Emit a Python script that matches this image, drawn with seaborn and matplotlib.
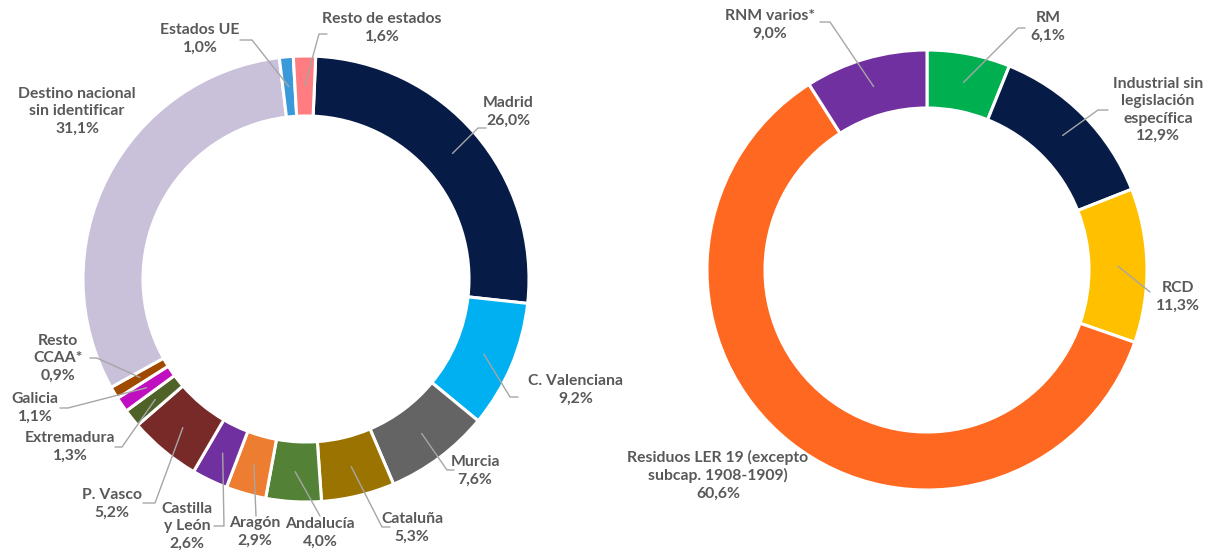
import matplotlib
matplotlib.use("Agg")
import matplotlib.pyplot as plt
import seaborn as sns
import numpy as np

W, H = 1207, 553

# left donut: destino de los residuos
left_names = ["Madrid", "C. Valenciana", "Murcia", "Cataluña", "Andalucía", "Aragón",
              "Castilla\ny León", "P. Vasco", "Extremadura", "Galicia", "Resto\nCCAA*",
              "Destino nacional\nsin identificar", "Estados UE", "Resto de estados"]
left_pct = [26.0, 9.2, 7.6, 5.3, 4.0, 2.9, 2.6, 5.2, 1.3, 1.1, 0.9, 31.1, 1.0, 1.6]
left_colors = ["#061C47", "#00B0F0", "#646464", "#9A7300", "#538135", "#ED7D31",
               "#7030A0", "#782A28", "#4F6228", "#C00FC0", "#A04A00", "#C9C0DA",
               "#3A9AD9", "#FF7C80"]

# right donut: tipo de residuo
right_names = ["RM", "Industrial sin\nlegislación\nespecífica", "RCD",
               "Residuos LER 19 (excepto\nsubcap. 1908-1909)", "RNM varios*"]
right_pct = [6.1, 12.9, 11.3, 60.6, 9.0]
right_colors = ["#00B050", "#061C47", "#FFC000", "#FF6820", "#7030A0"]

# label layout in pixel coords (y down): text centre, elbow, stub end (None = no line)
left_layout = [
    ((508, 112), (478, 128), (486, 128)),
    ((576, 390), (510, 397), (518, 397)),
    ((475, 471), (447, 470), (454, 470)),
    ((412, 528), (382, 527), (390, 527)),
    ((320, 533), (320, 516), None),
    ((255, 532), (256, 516), None),
    ((187, 526), (224, 526), (214, 526)),
    ((112, 504), (155, 503), (143, 503)),
    ((70, 447), (122, 447), (115, 447)),
    ((35, 408), (68, 408), (60, 408)),
    ((58, 358), (97, 358), (90, 358)),
    ((77, 111), None, None),
    ((200, 39), (252, 40), (240, 40)),
    ((382, 28), (319, 34), (327, 34)),
]
right_layout = [
    ((1048, 27), (1018, 28), (1025, 28)),
    ((1158, 110), (1098, 110), (1108, 110)),
    ((1178, 297), (1150, 292), None),
    ((718, 475), None, None),
    ((770, 25), (830, 22), (820, 22)),
]

sns.set_theme(style="white")
plt.rcParams["font.family"] = ["Lato", "DejaVu Sans"]

fig = plt.figure(figsize=(W / 100, H / 100), dpi=100)
ax = fig.add_axes([0, 0, 1, 1])


def donut(values, colors, names, layout, cx, cy, r, width, start, explode):
    wedges, _ = ax.pie(values, colors=colors, startangle=start, counterclock=False,
                       center=(cx, H - cy), radius=r, explode=explode,
                       wedgeprops=dict(width=width, edgecolor="white", linewidth=2.2))
    for w, name, val, (txt, elbow, stub) in zip(wedges, names, values, layout):
        label = name + "\n" + f"{val:.1f}%".replace(".", ",")
        ax.text(txt[0], H - txt[1], label, ha="center", va="center", fontsize=11.3,
                fontweight="bold", color="#595959", linespacing=1.3)
        if elbow is None:
            continue
        mid = np.deg2rad((w.theta1 + w.theta2) / 2)
        rm = w.r - width / 2
        px = w.center[0] + rm * np.cos(mid)
        py = w.center[1] + rm * np.sin(mid)
        xs = [px, elbow[0]]
        ys = [py, H - elbow[1]]
        if stub is not None:
            xs.append(stub[0])
            ys.append(H - stub[1])
        ax.plot(xs, ys, color="#A6A6A6", lw=1)


left_explode = [0, 0, 0, 0, 0, 0, 0, 0, 0.012, 0.018, 0.022, 0.008, 0.01, 0]
right_explode = [0, 0, 0, 0.02, 0.012]

donut(left_pct, left_colors, left_names, left_layout, 306, 279, 223, 60, 87.5, left_explode)
donut(right_pct, right_colors, right_names, right_layout, 927, 270, 220, 58, 90, right_explode)

ax.set_xlim(0, W)
ax.set_ylim(0, H)
ax.set_aspect("equal")
ax.axis("off")

fig.savefig("out.png", dpi=100, facecolor="white")
